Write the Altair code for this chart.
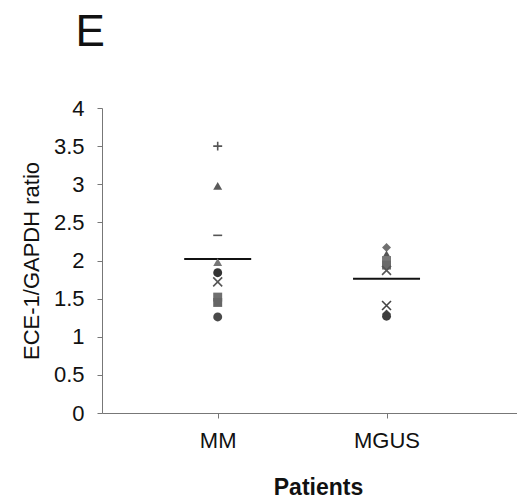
import altair as alt
import pandas as pd

# ECE-1/GAPDH expression ratio per patient, grouped by diagnosis
mm_values = [3.5, 2.98, 2.33, 1.98, 1.84, 1.72, 1.52, 1.45, 1.26]
mm_shapes = ["plus", "triangle-up", "dash", "triangle-up", "circle", "x", "square", "square", "circle"]
mm_colors = ["#555555", "#5a5a5a", "#555555", "#777777", "#333333", "#555555", "#6f6f6f", "#666666", "#4a4a4a"]

mgus_values = [2.17, 2.08, 2.0, 1.94, 1.87, 1.41, 1.30, 1.27]
mgus_shapes = ["diamond", "triangle-up", "square", "square", "x", "x", "diamond", "circle"]
mgus_colors = ["#707070", "#555555", "#777777", "#6a6a6a", "#555555", "#444444", "#444444", "#3d3d3d"]

groups = ["MM", "MGUS"]
group_means = [2.02, 1.76]

paths = {
    "plus": "M-1,0L1,0M0,-1L0,1",
    "x": "M-1,-1L1,1M-1,1L1,-1",
    "dash": "M-1,0L1,0",
}

rows = []
for g, vals, shp, cols in [("MM", mm_values, mm_shapes, mm_colors),
                           ("MGUS", mgus_values, mgus_shapes, mgus_colors)]:
    for v, s, c in zip(vals, shp, cols):
        rows.append({"group": g, "ratio": v, "kind": s,
                     "shape": paths.get(s, s), "color": c,
                     "stroked": s in paths})
points = pd.DataFrame(rows)
means = pd.DataFrame({"group": groups, "ratio": group_means})

x_enc = alt.X("group:N", sort=groups,
              scale=alt.Scale(type="point", padding=0.729, align=0.47),
              axis=alt.Axis(title="Patients", labelAngle=0, labelFontSize=22,
                            labelPadding=12, tickSize=5, titleFontSize=23,
                            titleFontWeight="bold", titlePadding=25, titleX=216))
y_enc = alt.Y("ratio:Q", scale=alt.Scale(domain=[0, 4], nice=False),
              axis=alt.Axis(title="ECE-1/GAPDH ratio", values=[0, 0.5, 1, 1.5, 2, 2.5, 3, 3.5, 4],
                            format="~g", labelFontSize=22, labelPadding=13, tickSize=5,
                            titleFontSize=22, titleFontWeight="normal", titlePadding=10,
                            grid=False))

filled = alt.Chart(points).transform_filter("!datum.stroked").mark_point(
    filled=True, size=80, opacity=1
).encode(
    x=x_enc, y=y_enc,
    shape=alt.Shape("shape:N", scale=None),
    color=alt.Color("color:N", scale=None),
)

stroked = alt.Chart(points).transform_filter("datum.stroked").mark_point(
    filled=False, size=80, strokeWidth=1.6, opacity=1
).encode(
    x=x_enc, y=y_enc,
    shape=alt.Shape("shape:N", scale=None),
    color=alt.Color("color:N", scale=None),
)

mean_ticks = alt.Chart(means).mark_tick(
    orient="horizontal", size=67, thickness=2, color="#111111", opacity=1
).encode(x=x_enc, y=y_enc)

chart = alt.layer(mean_ticks, filled, stroked).properties(
    width=415, height=305,
    autosize=alt.AutoSizeParams(type="none"),
    padding={"left": 102, "top": 108, "right": 0, "bottom": 90},
    title=alt.TitleParams("E", anchor="start", dx=55, fontSize=44,
                          fontWeight="normal", offset=42, color="#111111"),
).configure_view(stroke=None).configure_axis(
    domainColor="#777777", tickColor="#777777", labelColor="#111111",
    titleColor="#111111", labelFont="Liberation Sans", titleFont="Liberation Sans"
).configure_title(font="Liberation Sans")

chart.save("out.html", embed_options={"renderer": "svg", "actions": False})
